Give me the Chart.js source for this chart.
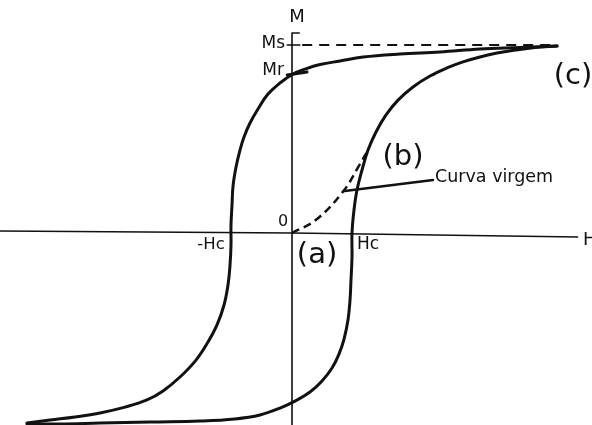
<!DOCTYPE html>
<html>
<head>
<meta charset="utf-8">
<script src="https://cdn.jsdelivr.net/npm/chart.js@4"></script>
<style>
  html, body { margin: 0; padding: 0; background: #fff; }
  #wrap { width: 592px; height: 425px; position: relative; }
</style>
</head>
<body>
<div id="wrap"><canvas id="loop"></canvas></div>
<script>
// hysteresis loop, H in units of Hc, M in units of Ms
var descendH = [4.417, 3.8, 3.133, 2.467, 1.8, 1.183, 0.8, 0.467, 0.217, 0.017, -0.2, -0.4, -0.567, -0.7, -0.8, -0.867, -0.933, -0.983, -1.0, -1.017, -1.017, -1.033, -1.067, -1.133, -1.25, -1.4, -1.6, -1.867, -2.15, -2.417, -2.783, -3.2, -3.617, -4.033, -4.417];
var descendM = [0.995, 0.987, 0.979, 0.963, 0.952, 0.936, 0.915, 0.896, 0.872, 0.846, 0.798, 0.739, 0.660, 0.585, 0.511, 0.441, 0.351, 0.250, 0.149, 0.043, -0.064, -0.170, -0.277, -0.383, -0.489, -0.580, -0.676, -0.766, -0.840, -0.888, -0.926, -0.957, -0.979, -0.995, -1.011];

var ascendH = [-4.417, -3.867, -3.2, -2.367, -1.533, -0.95, -0.533, -0.2, 0.05, 0.3, 0.5, 0.667, 0.783, 0.867, 0.933, 0.967, 0.983, 1.0, 1.0, 1.033, 1.083, 1.167, 1.267, 1.4, 1.567, 1.767, 2.017, 2.3, 2.583, 2.85, 3.133, 3.417, 3.717, 4.05, 4.417];
var ascendM = [-1.016, -1.016, -1.011, -1.005, -1.0, -0.989, -0.968, -0.931, -0.894, -0.846, -0.787, -0.718, -0.644, -0.564, -0.463, -0.356, -0.25, -0.128, 0, 0.122, 0.229, 0.335, 0.441, 0.537, 0.628, 0.707, 0.777, 0.835, 0.878, 0.910, 0.936, 0.957, 0.973, 0.987, 0.995];

// first magnetisation from the demagnetised state
var virginH = [0.0, 0.4, 0.85, 1.12, 1.267];
var virginM = [0.0, 0.07, 0.22, 0.36, 0.441];

var Ms = 1.0;
var Mr = 0.846;
var Hc = 1.0;

function pts(xs, ys) {
  return xs.map(function (x, i) { return { x: x, y: ys[i] }; });
}

var ink = '#111';

var labels = [
  { text: 'M', h: 0.083, m: 1.149, size: 18, align: 'center' },
  { text: 'Ms', h: -0.117, m: 1.005, size: 17, align: 'right' },
  { text: 'Mr', h: -0.133, m: 0.866, size: 17, align: 'right' },
  { text: '0', h: -0.15, m: 0.059, size: 16, align: 'center' },
  { text: '-Hc', h: -1.35, m: -0.064, size: 16.5, align: 'center' },
  { text: 'Hc', h: 1.083, m: -0.059, size: 17, align: 'left' },
  { text: '(a)', h: 0.417, m: -0.117, size: 29, align: 'center' },
  { text: '(b)', h: 1.85, m: 0.404, size: 29, align: 'center' },
  { text: '(c)', h: 4.683, m: 0.83, size: 29, align: 'center' },
  { text: 'Curva virgem', h: 2.383, m: 0.293, size: 17.5, align: 'left' },
  { text: 'H', h: 4.85, m: -0.037, size: 18, align: 'left' }
];

var textPlugin = {
  id: 'loopText',
  afterDatasetsDraw: function (chart) {
    var ctx = chart.ctx;
    var sx = chart.scales.x, sy = chart.scales.y;
    ctx.save();
    ctx.fillStyle = ink;
    ctx.textBaseline = 'middle';
    labels.forEach(function (l) {
      ctx.font = l.size + 'px "DejaVu Sans"';
      ctx.textAlign = l.align;
      ctx.fillText(l.text, sx.getPixelForValue(l.h), sy.getPixelForValue(l.m));
    });
    ctx.restore();
  }
};

function line(data, width, extra) {
  var ds = {
    data: data,
    showLine: true,
    borderColor: ink,
    backgroundColor: ink,
    borderWidth: width,
    borderCapStyle: 'round',
    borderJoinStyle: 'round',
    pointRadius: 0,
    fill: false,
    tension: 0
  };
  return Object.assign(ds, extra || {});
}

new Chart(document.getElementById('loop'), {
  type: 'scatter',
  data: {
    datasets: [
      // axes
      line(pts([-4.87, 0, 4.77], [0.011, 0, -0.021]), 1.6, { borderCapStyle: 'butt' }),
      line(pts([0, 0, 0.13], [-1.03, 1.064, 1.064]), 1.6, { borderCapStyle: 'butt' }),
      // Ms and Mr ticks
      line(pts([-0.08, 0.13], [Ms, Ms]), 1.6),
      line(pts([-0.08, 0.25], [Mr - 0.005, Mr + 0.01]), 3),
      // saturation level
      line(pts([0.17, 4.417], [Ms, Ms]), 2, { borderDash: [10, 7], borderCapStyle: 'butt' }),
      // loop branches
      line(pts(descendH, descendM), 3, { tension: 0.4 }),
      line(pts(ascendH, ascendM), 3, { tension: 0.4 }),
      line(pts(virginH, virginM), 2.5, { tension: 0.4, borderDash: [8, 5], borderCapStyle: 'butt' }),
      // leader for the virgin curve label
      line(pts([0.88, 2.35], [0.223, 0.282]), 2.5)
    ]
  },
  options: {
    responsive: true,
    maintainAspectRatio: false,
    animation: false,
    layout: { padding: 0 },
    scales: {
      x: { type: 'linear', display: false, min: -4.867, max: 5.0 },
      y: { type: 'linear', display: false, min: -1.0213, max: 1.2394 }
    },
    plugins: {
      legend: { display: false },
      tooltip: { enabled: false }
    }
  },
  plugins: [textPlugin]
});
</script>
</body>
</html>
